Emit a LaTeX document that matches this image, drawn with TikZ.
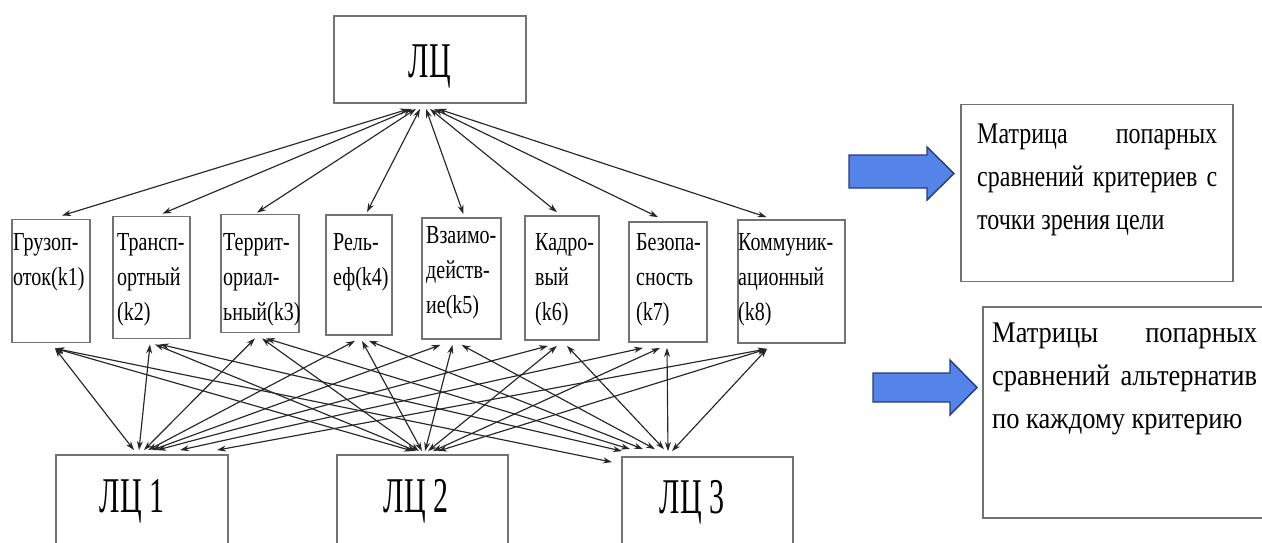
\documentclass[tikz,border=0pt]{standalone}
\usepackage{fontspec}
\setmainfont{Liberation Serif}
\usetikzlibrary{calc,arrows.meta}
\definecolor{boxgray}{RGB}{115,115,115}
\definecolor{arrowblue}{RGB}{84,132,232}
\definecolor{arrowedge}{RGB}{38,58,128}
\newcommand{\crittext}[1]{\scalebox{0.77}[1]{\begin{tabular}[t]{@{}l@{}}#1\end{tabular}}}
\newcommand{\bigtext}[1]{\scalebox{0.6}[1]{#1}}
\newcommand{\matrtext}[2]{\scalebox{#1}[1]{\parbox[t]{300pt}{\hyphenpenalty=10000\fontsize{30}{43}\selectfont #2}}}
\begin{document}
\begin{tikzpicture}[x=1pt,y=-1pt,
  box/.style={draw=boxgray,line width=1.8pt,inner sep=0pt},
  ctext/.style={anchor=base west,inner sep=0pt,font=\fontsize{26}{35}\selectfont},
  btext/.style={anchor=base,inner sep=0pt,font=\fontsize{50}{60}\selectfont},
  mtext/.style={anchor=base west,inner sep=0pt},
  link/.style={line width=1.15pt,draw=black!85,{Stealth[length=9pt,width=6pt]}-{Stealth[length=9pt,width=6pt]}},
  bigarrow/.style={fill=arrowblue,draw=arrowedge,line width=1.4pt,line join=miter}]
\useasboundingbox (0,0) rectangle (1262,542);
\clip (0,0) rectangle (1262,542);

% goal
\node[box,minimum width=192pt,minimum height=87pt] (top) at (430,59.5) {};
\node[btext] (toptext) at (430,77) {\bigtext{ЛЦ}};

% criteria boxes
\node[box,minimum width=78pt,minimum height=123pt] (k1) at (51,281) {};
\node[box,minimum width=77pt,minimum height=122pt] (k2) at (151.5,277.5) {};
\node[box,minimum width=78pt,minimum height=118pt] (k3) at (260,273.5) {};
\node[box,minimum width=66pt,minimum height=120pt] (k4) at (359,275) {};
\node[box,minimum width=79pt,minimum height=121pt] (k5) at (461.5,278.5) {};
\node[box,minimum width=74pt,minimum height=124pt] (k6) at (562,278) {};
\node[box,minimum width=78pt,minimum height=120pt] (k7) at (668,282) {};
\node[box,minimum width=107pt,minimum height=123pt] (k8) at (791.5,281.5) {};

\node[ctext] (t1) at (13,250) {\crittext{Грузоп-\\оток(k1)}};
\node[ctext] (t2) at (117,250) {\crittext{Трансп-\\ортный\\(k2)}};
\node[ctext] (t3) at (223,250) {\crittext{Террит-\\ориал-\\ьный(k3)}};
\node[ctext] (t4) at (333,250) {\crittext{Рель-\\еф(k4)}};
\node[ctext] (t5) at (426,243) {\crittext{Взаимо-\\действ-\\ие(k5)}};
\node[ctext] (t6) at (535,250) {\crittext{Кадро-\\вый\\(k6)}};
\node[ctext] (t7) at (636,250) {\crittext{Безопа-\\сность\\(k7)}};
\node[ctext] (t8) at (738,250) {\crittext{Коммуник-\\ационный\\(k8)}};

% alternatives
\node[box,minimum width=172pt,minimum height=92pt] (L1) at (142,501) {};
\node[box,minimum width=171pt,minimum height=92pt] (L2) at (422.5,501) {};
\node[box,minimum width=171pt,minimum height=90pt] (L3) at (707.5,502) {};
\node[btext] (L1t) at (132,512) {\bigtext{ЛЦ 1}};
\node[btext] (L2t) at (416,512) {\bigtext{ЛЦ 2}};
\node[btext] (L3t) at (692,513) {\bigtext{ЛЦ 3}};

% goal <-> criteria
\foreach \i/\gx/\kx/\ky in {1/-21/11/-3, 2/-18/11/-2, 3/-14/-3/-1, 4/-10/8/-2, 5/-4/2/-3, 6/0/-5/-3, 7/4/-10/-4, 8/8/-25/-2}{
  \coordinate (g\i) at ($(top.south)+(\gx,5)$);
  \coordinate (c\i) at ($(k\i.north)+(\kx,\ky)$);
  \draw[link] (g\i) -- (c\i);
}

% alternative ends
\foreach \i/\dx in {1/-8, 2/-3, 3/2, 4/6, 5/10, 6/15, 7/38, 8/75}
  \coordinate (a1-\i) at ($(L1.north)+(\dx,-4)$);
\foreach \i/\dx in {1/-9.5, 2/-6.5, 3/-3.5, 4/-0.5, 5/2.5, 6/5.5, 7/10.5, 8/15.5}
  \coordinate (a2-\i) at ($(L2.north)+(\dx,-3)$);
\foreach \i/\dx/\dy in {1/-95.5/6, 2/-85.5/-5, 3/-77.5/-7, 4/-64.5/-7, 5/-52.5/-7, 6/-43.5/-7, 7/-39.5/-5, 8/-35.5/-5}
  \coordinate (a3-\i) at ($(L3.north)+(\dx,\dy)$);

% criteria bottom ends
\foreach \i/\da/\db/\dc in {1/4/4/4, 2/-1.5/3.5/8.5, 3/-5/2/6, 4/-4/3/10, 5/-21/-9/0, 6/-14/-5/5, 7/-25/-8/-1, 8/-24.5/-24.5/-24.5}{
  \coordinate (b1-\i) at ($(k\i.south)+(\da,5)$);
  \coordinate (b2-\i) at ($(k\i.south)+(\db,5)$);
  \coordinate (b3-\i) at ($(k\i.south)+(\dc,5)$);
}
\foreach \i in {1,...,8}
  \foreach \j in {1,2,3}
    \draw[link] (b\j-\i) -- (a\j-\i);

% right side
\draw[bigarrow] (849,155) -- (927,155) -- (927,147) -- (954,173.5) -- (927,200) -- (927,188) -- (849,188) -- cycle;
\draw[bigarrow] (873,373) -- (950,373) -- (950,360) -- (977,387.5) -- (950,415) -- (950,402) -- (873,402) -- cycle;

\node[box,minimum width=272pt,minimum height=177pt] (m1) at (1097,193) {};
\node[box,minimum width=290pt,minimum height=211pt] (m2) at (1128,412.5) {};
\node[mtext] (m1t) at (977,143) {\matrtext{0.80}{Матрица попарных\linebreak сравнений критериев с\linebreak точки зрения цели}};
\node[mtext] (m2t) at (992,342) {\matrtext{0.883}{Матрицы попарных\linebreak сравнений альтернатив\linebreak по каждому критерию}};
\end{tikzpicture}
\end{document}
